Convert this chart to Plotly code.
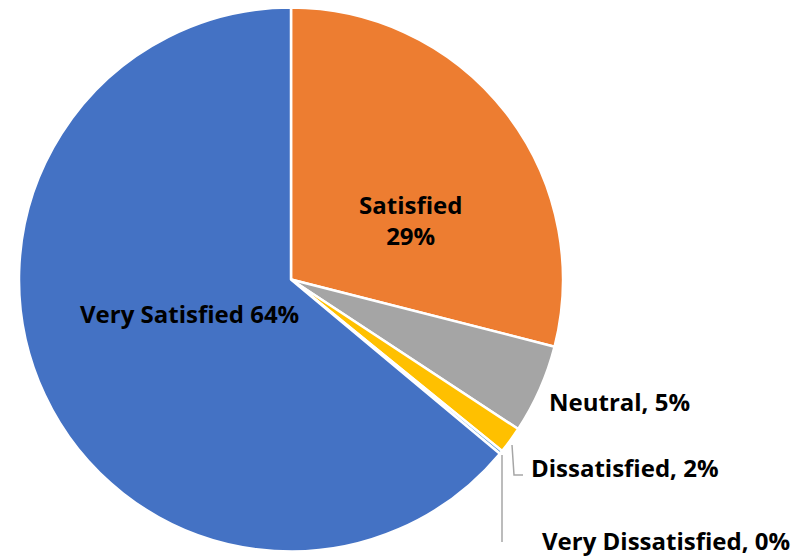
import plotly.graph_objects as go

labels = ["Satisfied", "Neutral", "Dissatisfied", "Very Dissatisfied", "Very Satisfied"]
values = [29, 5.3, 1.6, 0.2, 64]
percent_text = ["29%", "5%", "2%", "0%", "64%"]
colors = ["#ED7D31", "#A5A5A5", "#FFC000", "#5B9BD5", "#4472C4"]

W, H = 802, 556
def px(x): return x / W
def py(y): return 1 - y / H

fig = go.Figure(go.Pie(
    labels=labels, values=values, textinfo="none",
    sort=False, direction="clockwise", rotation=0,
    marker=dict(colors=colors, line=dict(color="white", width=2.5)),
    domain=dict(x=[px(19), px(563)], y=[py(552), py(7)]),
    showlegend=False, hoverinfo="label+percent",
))

font = dict(family="Open Sans", size=24, color="black", weight="bold")
ann = [
    (f"{labels[0]}<br>{percent_text[0]}", 410, 220, "center"),
    (f"{labels[4]} {percent_text[4]}", 189, 313, "center"),
    (f"{labels[1]}, {percent_text[1]}", 547, 402, "left"),
    (f"{labels[2]}, {percent_text[2]}", 529, 467, "left"),
    (f"{labels[3]}, {percent_text[3]}", 540, 540, "left"),
]
for t, x, y, xa in ann:
    fig.add_annotation(text=t, x=px(x), y=py(y), xref="paper", yref="paper",
                       xanchor=xa, yanchor="middle", showarrow=False, font=font,
                       align="center")

# leader lines
lc = dict(color="#A6A6A6", width=1.5)
fig.add_shape(type="path", xref="paper", yref="paper",
              path=f"M {px(512)} {py(445)} L {px(514)} {py(475)} L {px(523)} {py(475)}", line=lc)
fig.add_shape(type="line", xref="paper", yref="paper",
              x0=px(502), y0=py(455), x1=px(502), y1=py(542), line=lc)

fig.update_layout(width=W, height=H, margin=dict(l=0, r=0, t=0, b=0),
                  paper_bgcolor="white", plot_bgcolor="white")
fig.write_html("out.html", config={"displayModeBar": False},
               post_script="document.body.style.margin='0';")
